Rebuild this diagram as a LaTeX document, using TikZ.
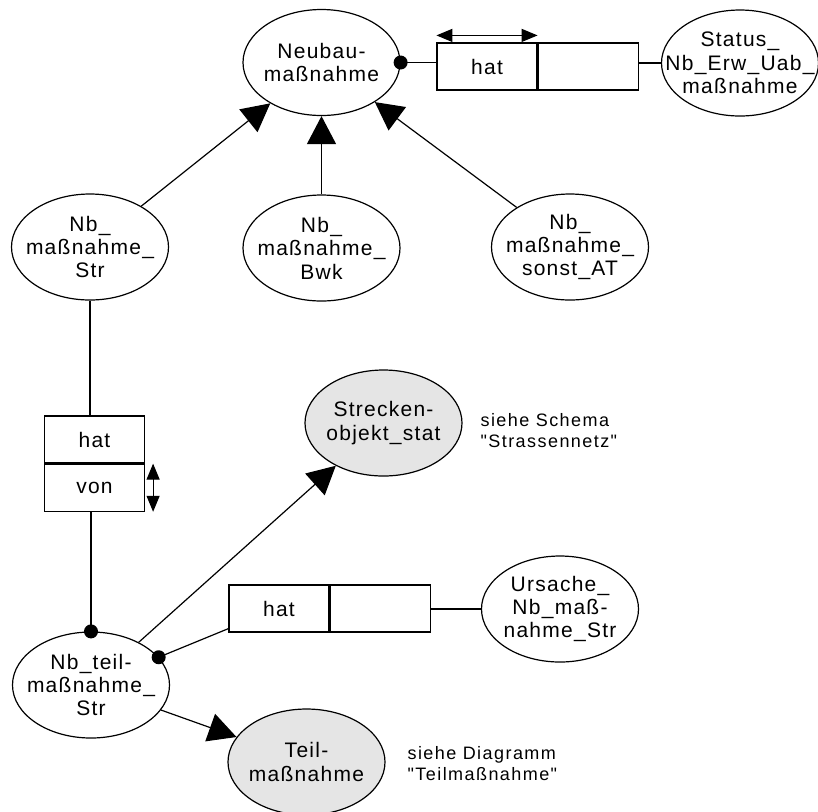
\documentclass[tikz,border=0pt]{standalone}
\usepackage{fontspec}
\setmainfont{Liberation Sans}[LetterSpace=6]
\newfontfamily\notefont{Liberation Sans}[LetterSpace=8]
\usetikzlibrary{arrows.meta, positioning, calc, shapes.geometric}

\begin{document}
\begin{tikzpicture}[x=0.5pt, y=-0.5pt, line width=0.6pt,
    font=\fontsize{10.5}{11.7}\selectfont,
    entity/.style={ellipse, draw, minimum width=78.5pt, minimum height=53pt, inner sep=0pt},
    extern/.style={entity, fill=gray!20},
    txt/.style={align=center, inner sep=0pt},
    relbox/.style={rectangle, draw, minimum width=50pt, minimum height=23.5pt, inner sep=0pt},
    isa/.style={-{Triangle[length=14pt, width=14.5pt]}},
    flow/.style={{Triangle[length=8pt, width=6.5pt]}-{Triangle[length=8pt, width=6.5pt]}},
    dotnode/.style={circle, fill, inner sep=0pt, minimum size=7pt},
    note/.style={font=\notefont\fontsize{9}{10.5}\selectfont, align=left, anchor=west, inner sep=0pt}]

    \useasboundingbox (0,0) rectangle (818,811);

    % Entities
    \node[entity, label={[txt]center:{Neubau-\\maßnahme}}] (neubau) at (321.5,62.5) {};
    \node[entity, label={[txt]center:{Status\_\\Nb\_Erw\_Uab\_\\maßnahme}}] (status) at (740,63) {};
    \node[entity, label={[txt]center:{Nb\_\\maßnahme\_\\Str}}] (str) at (90,247) {};
    \node[entity, label={[txt]center:{Nb\_\\maßnahme\_\\Bwk}}] (bwk) at (321.5,248) {};
    \node[entity, label={[txt]center:{Nb\_\\maßnahme\_\\sonst\_AT}}] (sonst) at (570,247) {};
    \node[extern, label={[txt]center:{Strecken-\\objekt\_stat}}] (strecken) at (383.5,423) {};
    \node[entity, label={[txt]center:{Nb\_teil-\\maßnahme\_\\Str}}] (teil) at (91,685) {};
    \node[entity, label={[txt]center:{Ursache\_\\Nb\_maß-\\nahme\_Str}}] (ursache) at (560,609) {};
    \node[extern, label={[txt]center:{Teil-\\maßnahme}}] (teilm) at (306.5,762) {};

    % Relationship boxes
    \node[relbox] (hatn) at (487,66.5) {hat};
    \node[relbox, right=0pt of hatn] (emptyn) {};
    \node[relbox] (hatv) at (94.5,439.5) {hat};
    \node[relbox, below=0pt of hatv] (vonv) {von};
    \node[relbox] (hatt) at (279,608.5) {hat};
    \node[relbox, right=0pt of hatt] (emptyt) {};

    % Notes
    \node[note] (noteschema) at (480,431) {siehe Schema\\"Strassennetz"};
    \node[note] (notediagramm) at (407,764) {siehe Diagramm\\"Teilmaßnahme"};

    % Generalisation
    \foreach \sub in {str, bwk, sonst}
        \draw[isa] (\sub) -- (neubau);

    % Status relation
    \draw (neubau.east) node[dotnode] {} -- (neubau.east -| hatn.west);
    \draw (emptyn.east |- status.west) -- (status.west);
    \draw[flow] ($(hatn.north west)+(0,-7)$) -- ($(hatn.north east)+(0,-7)$);

    % hat / von
    \draw (str) -- (str |- hatv.north);
    \draw (teil.north) node[dotnode] {} -- (teil.north |- vonv.south);
    \draw[flow] ($(vonv.north east)+(8,0)$) -- ($(vonv.south east)+(8,0)$);

    % Teilmassnahme connections
    \draw[isa] (teil) -- (strecken);
    \draw[isa] (teil) -- (teilm);
    \draw (teil) -- ($(hatt.south west)+(0,-4)$) node[pos=0, dotnode] {};
    \draw (emptyt.east |- ursache.west) -- (ursache.west);

\end{tikzpicture}
\end{document}
